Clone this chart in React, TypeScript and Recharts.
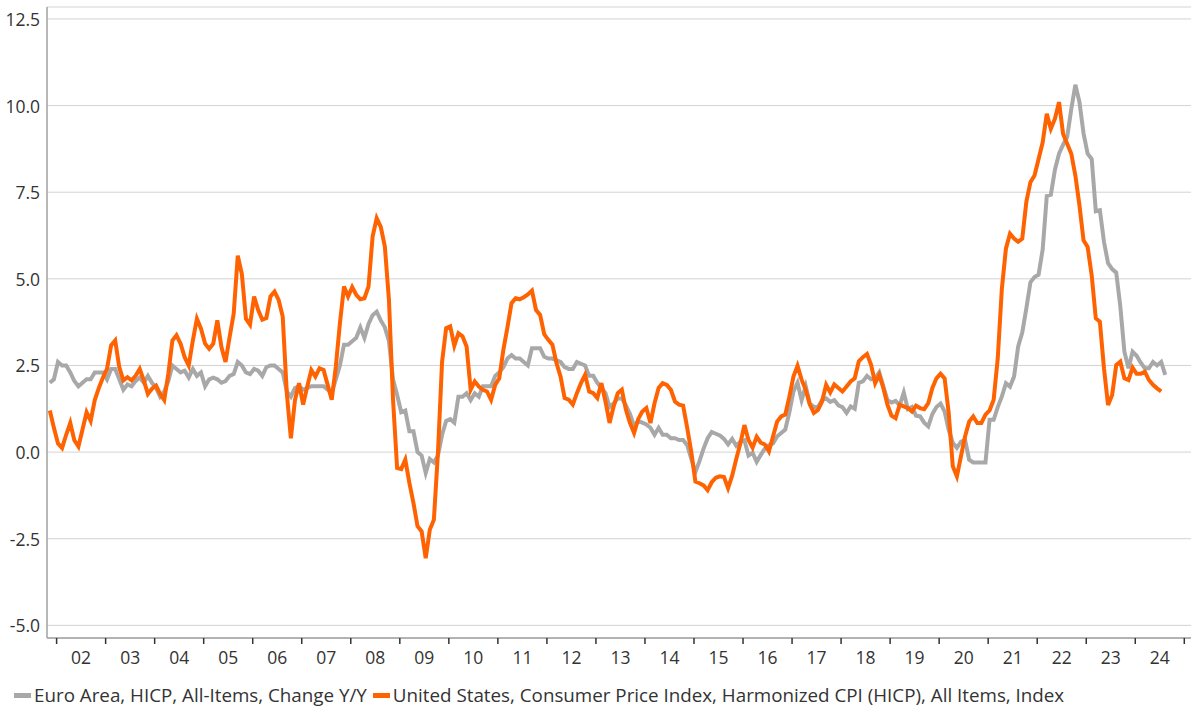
import { LineChart, Line, XAxis, YAxis, CartesianGrid } from "recharts";

// monthly observations, first one is Nov 2001 (t = -2, Jan 2002 = 0)
const FIRST_T = -2;

const YEAR_LABELS = [
  "02", "03", "04", "05", "06", "07", "08", "09", "10", "11", "12",
  "13", "14", "15", "16", "17", "18", "19", "20", "21", "22", "23", "24",
];

const Y_TICKS = [-5, -2.5, 0, 2.5, 5, 7.5, 10, 12.5];

const EA_NAME = "Euro Area, HICP, All-Items, Change Y/Y";
const US_NAME = "United States, Consumer Price Index, Harmonized CPI (HICP), All Items, Index";

// Euro Area HICP y/y, Nov 2001 .. Aug 2024
const euroAreaHicp = [
  2.0, 2.1,
  2.6, 2.5, 2.5, 2.3, 2.05, 1.9, 2.0, 2.1, 2.1, 2.3, 2.3, 2.3,
  2.1, 2.4, 2.4, 2.1, 1.8, 1.95, 1.9, 2.05, 2.15, 2.0, 2.2, 2.0,
  1.85, 1.6, 1.75, 2.05, 2.5, 2.4, 2.3, 2.35, 2.15, 2.4, 2.2, 2.3,
  1.9, 2.1, 2.15, 2.1, 2.0, 2.05, 2.2, 2.25, 2.6, 2.5, 2.3, 2.25,
  2.4, 2.35, 2.2, 2.45, 2.5, 2.5, 2.4, 2.3, 1.75, 1.6, 1.85, 1.9,
  1.8, 1.85, 1.9, 1.9, 1.9, 1.9, 1.8, 1.72, 2.1, 2.5, 3.1, 3.1,
  3.2, 3.3, 3.6, 3.3, 3.7, 3.95, 4.05, 3.8, 3.6, 3.2, 2.1, 1.65,
  1.15, 1.2, 0.6, 0.6, 0.0, -0.1, -0.6, -0.2, -0.3, -0.1, 0.5, 0.9,
  0.95, 0.85, 1.6, 1.6, 1.7, 1.5, 1.7, 1.6, 1.9, 1.9, 1.9, 2.2,
  2.3, 2.45, 2.7, 2.8, 2.7, 2.7, 2.6, 2.5, 3.0, 3.0, 3.0, 2.75,
  2.7, 2.7, 2.65, 2.6, 2.45, 2.4, 2.4, 2.6, 2.55, 2.5, 2.2, 2.2,
  2.0, 1.85, 1.7, 1.3, 1.4, 1.55, 1.55, 1.35, 1.1, 0.75, 0.9, 0.85,
  0.8, 0.7, 0.5, 0.7, 0.5, 0.5, 0.4, 0.4, 0.35, 0.35, 0.2, -0.2,
  -0.58, -0.26, 0.1, 0.4, 0.58, 0.53, 0.48, 0.38, 0.22, 0.38, 0.18, 0.3,
  0.34, -0.1, -0.02, -0.28, -0.08, 0.1, 0.2, 0.25, 0.45, 0.55, 0.65, 1.15,
  1.75, 2.0, 1.5, 1.9, 1.4, 1.3, 1.3, 1.5, 1.55, 1.45, 1.5, 1.35,
  1.3, 1.13, 1.32, 1.25, 2.0, 2.04, 2.2, 2.1, 2.13, 2.3, 1.9, 1.5,
  1.43, 1.48, 1.35, 1.72, 1.24, 1.3, 1.05, 1.03, 0.85, 0.74, 1.1, 1.3,
  1.4, 1.17, 0.64, 0.27, 0.12, 0.3, 0.36, -0.22, -0.3, -0.3, -0.3, -0.3,
  0.93, 0.93, 1.3, 1.6, 1.99, 1.89, 2.18, 3.05, 3.45, 4.15, 4.9, 5.05,
  5.12, 5.85, 7.39, 7.43, 8.15, 8.61, 8.87, 9.1, 9.9, 10.6, 10.1, 9.2,
  8.61, 8.46, 6.95, 6.98, 6.07, 5.45, 5.28, 5.18, 4.2, 2.9, 2.42, 2.9,
  2.78, 2.58, 2.42, 2.42, 2.6, 2.5, 2.6, 2.23,
];

// US HICP y/y, Nov 2001 .. Jul 2024
const usHicp = [
  1.2, 0.7,
  0.25, 0.12, 0.5, 0.84, 0.34, 0.16, 0.65, 1.15, 0.9, 1.5, 1.85, 2.15,
  2.4, 3.08, 3.22, 2.45, 2.07, 2.16, 2.07, 2.2, 2.4, 2.07, 1.68, 1.83,
  1.92, 1.68, 1.5, 2.26, 3.22, 3.37, 3.13, 2.74, 2.5, 3.22, 3.85, 3.56,
  3.13, 2.98, 3.13, 3.8, 3.03, 2.6, 3.32, 3.99, 5.67, 5.14, 3.85, 3.68,
  4.49, 4.1, 3.82, 3.87, 4.49, 4.63, 4.39, 3.91, 1.7, 0.4, 1.5, 1.99,
  1.37, 1.89, 2.37, 2.18, 2.42, 2.37, 1.94, 1.51, 2.47, 3.72, 4.78, 4.49,
  4.76, 4.54, 4.41, 4.44, 4.78, 6.22, 6.75, 6.5, 5.93, 4.39, 1.51, -0.46,
  -0.49, -0.22, -0.89, -1.47, -2.14, -2.29, -3.06, -2.24, -1.95, 0.0, 2.6, 3.58,
  3.63, 3.07, 3.43, 3.34, 3.05, 1.8, 2.04, 1.89, 1.8, 1.75, 1.51, 1.94,
  2.13, 2.95, 3.6, 4.3, 4.44, 4.41, 4.47, 4.55, 4.66, 4.1, 3.96, 3.4,
  3.24, 3.1, 2.57, 2.18, 1.56, 1.51, 1.37, 1.7, 1.99, 2.23, 1.75, 1.7,
  1.56, 1.99, 1.46, 0.84, 1.32, 1.7, 1.8, 1.22, 0.84, 0.55, 0.95, 1.17,
  1.27, 0.84, 1.41, 1.85, 1.99, 1.94, 1.8, 1.46, 1.37, 1.34, 0.7, 0.0,
  -0.85, -0.9, -0.96, -1.1, -0.87, -0.74, -0.7, -0.72, -1.04, -0.68, -0.2, 0.25,
  0.78, 0.35, 0.13, 0.44, 0.27, 0.22, 0.02, 0.45, 0.88, 1.03, 1.08, 1.6,
  2.18, 2.49, 2.09, 1.8, 1.37, 1.13, 1.22, 1.46, 1.94, 1.72, 1.95, 1.85,
  1.75, 1.89, 2.04, 2.13, 2.62, 2.74, 2.83, 2.52, 1.99, 2.23, 1.85, 1.37,
  1.05, 0.98, 1.37, 1.32, 1.27, 1.17, 1.34, 1.27, 1.24, 1.41, 1.85, 2.13,
  2.26, 2.13, 1.13, -0.41, -0.7, -0.12, 0.45, 0.88, 1.03, 0.84, 0.84, 1.08,
  1.2, 1.51, 2.7, 4.7, 5.87, 6.3, 6.16, 6.07, 6.16, 7.22, 7.79, 7.98,
  8.46, 8.94, 9.76, 9.33, 9.62, 10.1, 9.18, 8.9, 8.61, 7.98, 7.12, 6.11,
  5.92, 5.1, 3.86, 3.76, 2.42, 1.36, 1.65, 2.51, 2.61, 2.13, 2.08, 2.44,
  2.26, 2.26, 2.32, 2.08, 1.94, 1.84, 1.75,
];

const GREY = "#a8a8a8";
const ORANGE = "#ff6200";
const TEXT = "#333333";
const FONT = "'Open Sans', sans-serif";

// layout
const W = 1200;
const H = 722;
const MARGIN = { top: 7, right: 9, left: 0, bottom: 54 };
const Y_AXIS_W = 47;
const X_DOMAIN: [number, number] = [-2.69, 277.3];
const Y_DOMAIN: [number, number] = [-5.365, 12.845];
const PX_PER_MONTH = (W - MARGIN.right - MARGIN.left - Y_AXIS_W) / (X_DOMAIN[1] - X_DOMAIN[0]);
const TICK_SHIFT = -0.34; // year ticks sit slightly before the Jan point

const yearTicks = [...YEAR_LABELS, "25"].map((_, k) => 12 * k + TICK_SHIFT);

const data = euroAreaHicp.map((v, i) => ({
  t: FIRST_T + i,
  ea: v,
  us: i < usHicp.length ? usHicp[i] : null,
}));

function YearTick(props: any) {
  const { x, payload } = props;
  const k = Math.round((payload.value - TICK_SHIFT) / 12);
  const label = YEAR_LABELS[k];
  if (!label) return <g />;
  return (
    <text x={x + 6 * PX_PER_MONTH} y={664} textAnchor="middle" fill={TEXT} fontSize={17.5} fontFamily={FONT}>
      {label}
    </text>
  );
}

function ValueTick(props: any) {
  const { y, payload } = props;
  return (
    <text x={40} y={y + 7} textAnchor="end" fill={TEXT} fontSize={17.5} fontFamily={FONT}>
      {Number(payload.value).toFixed(1)}
    </text>
  );
}

function LegendItem({ color, label }: { color: string; label: string }) {
  return (
    <span style={{ display: "inline-flex", alignItems: "center", marginRight: 6 }}>
      <span style={{ display: "inline-block", width: 17, height: 5, background: color, marginRight: 3 }} />
      <span>{label}</span>
    </span>
  );
}

export default function App() {
  return (
    <div style={{ position: "absolute", left: 0, top: 0, width: W, height: H, background: "#fff" }}>
      <LineChart width={W} height={H} data={data} margin={MARGIN}>
        <CartesianGrid vertical={false} stroke="#d3d3d3" strokeWidth={1} />
        <XAxis
          dataKey="t"
          type="number"
          domain={X_DOMAIN}
          allowDataOverflow
          ticks={yearTicks}
          interval={0}
          height={30}
          tickSize={6}
          axisLine={{ stroke: "#a0a0a0", strokeWidth: 1.5 }}
          tickLine={{ stroke: "#333", strokeWidth: 1.5 }}
          tick={<YearTick />}
        />
        <YAxis
          type="number"
          domain={Y_DOMAIN}
          allowDataOverflow
          ticks={Y_TICKS}
          interval={0}
          width={Y_AXIS_W}
          tickLine={false}
          axisLine={{ stroke: "#a0a0a0", strokeWidth: 1.5 }}
          tick={<ValueTick />}
        />
        <Line
          type="linear"
          dataKey="ea"
          name={EA_NAME}
          stroke={GREY}
          strokeWidth={4}
          dot={false}
          isAnimationActive={false}
        />
        <Line
          type="linear"
          dataKey="us"
          name={US_NAME}
          stroke={ORANGE}
          strokeWidth={4}
          dot={false}
          isAnimationActive={false}
        />
      </LineChart>
      <div
        style={{
          position: "absolute",
          left: 14,
          top: 682,
          fontFamily: FONT,
          fontSize: 18.8,
          color: TEXT,
          whiteSpace: "nowrap",
          display: "flex",
          alignItems: "center",
        }}
      >
        <LegendItem color={GREY} label={EA_NAME} />
        <LegendItem color={ORANGE} label={US_NAME} />
      </div>
    </div>
  );
}
